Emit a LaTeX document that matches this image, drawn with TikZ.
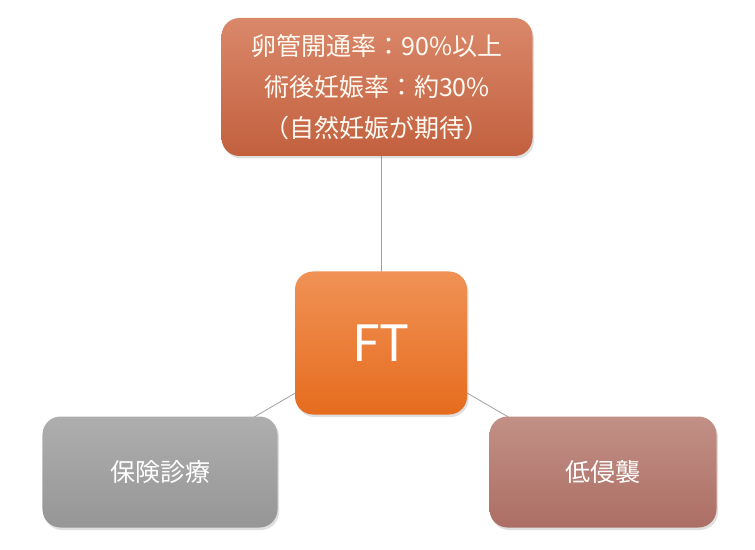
\documentclass[tikz,border=0pt]{standalone}
\usepackage{fontspec}
\newfontfamily\jp{Noto Sans CJK JP}
\usetikzlibrary{shadows,backgrounds}
\definecolor{topA}{RGB}{218,136,106}
\definecolor{topB}{RGB}{194,96,62}
\definecolor{cenA}{RGB}{240,146,86}
\definecolor{cenB}{RGB}{230,108,30}
\definecolor{grayA}{RGB}{174,174,174}
\definecolor{grayB}{RGB}{150,150,150}
\definecolor{redA}{RGB}{194,144,134}
\definecolor{redB}{RGB}{172,110,100}
\definecolor{lineC}{RGB}{160,160,160}
\definecolor{txtC}{RGB}{255,250,242}
\begin{document}
\begin{tikzpicture}[x=1bp,y=-1bp,
  box/.style={rounded corners=18bp, inner sep=0pt, text=txtC,
    font=\jp\fontsize{25bp}{41bp}\selectfont, align=center,
    drop shadow={opacity=0.25, shadow xshift=1.5bp, shadow yshift=-2.5bp}},
  conn/.style={draw=lineC, line width=0.8bp}]
\useasboundingbox (0,0) rectangle (755,550);
\node[box, top color=topA, bottom color=topB, minimum width=311bp, minimum height=138bp] (t) at (377,87)
  {卵管開通率：90\%以上\\術後妊娠率：約30\%\\（自然妊娠が期待）};
\node[box, top color=cenA, bottom color=cenB, minimum width=172bp, minimum height=143bp,
  font=\jp\fontsize{50bp}{50bp}\selectfont, text=white] (c) at (381,343) {FT};
\node[box, top color=grayA, bottom color=grayB, minimum width=235bp, minimum height=111bp, text=white] (l) at (160,472) {保険診療};
\node[box, top color=redA, bottom color=redB, minimum width=227bp, minimum height=111bp, text=white] (r) at (603,472) {低侵襲};
\begin{scope}[on background layer]
\draw[conn] (c.center) -- (c.center |- t.south);
\draw[conn] (c.center) -- (l.center);
\draw[conn] (c.center) -- (r.center);
\end{scope}
\end{tikzpicture}
\end{document}
